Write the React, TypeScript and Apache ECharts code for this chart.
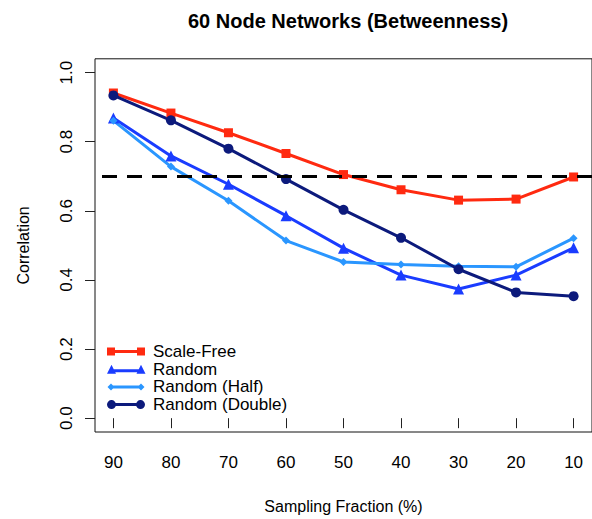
import React, { useEffect, useRef } from "react";
import * as echarts from "echarts";

// Sampling fractions (%) along the x axis, shown from high to low
const fractions = [90, 80, 70, 60, 50, 40, 30, 20, 10];

// Correlation of betweenness for each network type
const scaleFree = [0.941, 0.883, 0.826, 0.766, 0.705, 0.661, 0.631, 0.634, 0.698];
const randomNet = [0.869, 0.759, 0.677, 0.586, 0.492, 0.414, 0.374, 0.414, 0.493];
const randomHalf = [0.861, 0.728, 0.629, 0.514, 0.452, 0.445, 0.44, 0.438, 0.521];
const randomDouble = [0.934, 0.862, 0.78, 0.692, 0.603, 0.522, 0.431, 0.364, 0.353];

const yTicks = [0, 0.2, 0.4, 0.6, 0.8, 1.0];
const threshold = 0.7;

const FONT = "'Liberation Sans', Arial, Helvetica, sans-serif";

// Legend glyphs: a segment with a marker at each end
const ANCHOR = "M0,0 M41,10 ";
const iconSquare = ANCHOR + "M0,1 H8 V3.5 H30 V1 H38 V9 H30 V6.5 H8 V9 H0 Z";
const iconTriangle =
  ANCHOR + "M0,9.5 L4.5,0.5 L9,9.5 Z M29.5,9.5 L34,0.5 L38.5,9.5 Z M4.5,5 H34 V8 H4.5 Z";
const iconDiamond =
  ANCHOR + "M0.5,5 L4,1.5 L7.5,5 L4,8.5 Z M30.5,5 L34,1.5 L37.5,5 L34,8.5 Z M4,3.5 H34 V6.5 H4 Z";
const iconCircle =
  ANCHOR +
  "M0,5 A4.5,4.5 0 1 1 9,5 A4.5,4.5 0 1 1 0,5 Z M29,5 A4.5,4.5 0 1 1 38,5 A4.5,4.5 0 1 1 29,5 Z M4.5,3.5 H33.5 V6.5 H4.5 Z";

const seriesDefs = [
  { name: "Scale-Free", values: scaleFree, color: "#ff2a10", symbol: "rect", size: 9, icon: iconSquare },
  { name: "Random", values: randomNet, color: "#1a3cff", symbol: "triangle", size: 11, icon: iconTriangle },
  { name: "Random (Half)", values: randomHalf, color: "#2a96ff", symbol: "diamond", size: 8, icon: iconDiamond },
  { name: "Random (Double)", values: randomDouble, color: "#0c1a7c", symbol: "circle", size: 10, icon: iconCircle },
];

export default function App() {
  const ref = useRef<HTMLDivElement>(null);

  useEffect(() => {
    if (!ref.current) return;
    const chart = echarts.init(ref.current, null, { renderer: "svg" });

    const lineSeries = seriesDefs.map((s) => ({
      name: s.name,
      type: "line",
      z: 3,
      data: fractions.map((f, i) => [f, s.values[i]]),
      symbol: s.symbol,
      symbolSize: s.size,
      showSymbol: true,
      color: s.color,
      lineStyle: { color: s.color, width: 3 },
      itemStyle: { color: s.color },
    }));

    chart.setOption({
      animation: false,
      backgroundColor: "#ffffff",
      textStyle: { fontFamily: FONT },
      title: {
        text: "60 Node Networks (Betweenness)",
        left: 343,
        top: 6,
        textAlign: "center",
        textStyle: { fontFamily: FONT, fontSize: 20, fontWeight: "bold", color: "#000" },
      },
      legend: {
        orient: "vertical",
        left: 107,
        top: 343,
        padding: 0,
        itemWidth: 41,
        itemHeight: 10,
        itemGap: 0.7,
        selectedMode: false,
        textStyle: { fontFamily: FONT, fontSize: 17, color: "#000" },
        data: seriesDefs.map((s) => ({ name: s.name, icon: "path://" + s.icon })),
      },
      grid: {
        left: 95,
        top: 58.8,
        width: 497.4,
        height: 376.2,
        show: true,
        borderColor: "#111",
        borderWidth: 1,
        backgroundColor: "transparent",
      },
      xAxis: {
        type: "value",
        min: 6.8,
        max: 93.2,
        inverse: true,
        name: "Sampling Fraction (%)",
        nameLocation: "middle",
        nameGap: 66,
        nameTextStyle: { fontFamily: FONT, fontSize: 16, color: "#000" },
        axisLine: { show: false },
        axisTick: {
          show: true,
          length: 10,
          customValues: fractions,
          lineStyle: { color: "#222", width: 1 },
        },
        axisLabel: {
          customValues: fractions,
          fontFamily: FONT,
          fontSize: 17,
          color: "#000",
          margin: 22,
        },
        splitLine: { show: false },
      },
      yAxis: {
        type: "value",
        min: -0.04,
        max: 1.04,
        name: "Correlation",
        nameLocation: "middle",
        nameGap: 64,
        nameTextStyle: { fontFamily: FONT, fontSize: 16, color: "#000" },
        axisLine: { show: false },
        axisTick: {
          show: true,
          length: 10,
          customValues: yTicks,
          lineStyle: { color: "#222", width: 1 },
        },
        axisLabel: {
          customValues: yTicks,
          rotate: 90,
          fontFamily: FONT,
          fontSize: 17,
          color: "#000",
          margin: 20,
          formatter: (v: number) => v.toFixed(1),
        },
        splitLine: { show: false },
      },
      series: [
        {
          type: "line",
          z: 1,
          data: [],
          silent: true,
          markLine: {
            silent: true,
            symbol: "none",
            label: { show: false },
            lineStyle: { color: "#000", width: 3, type: [15, 10] },
            data: [{ yAxis: threshold }],
          },
        },
        ...lineSeries,
      ],
    });

    return () => chart.dispose();
  }, []);

  return (
    <div
      ref={ref}
      style={{ position: "fixed", left: 0, top: 0, width: 592, height: 519, background: "#fff" }}
    />
  );
}
